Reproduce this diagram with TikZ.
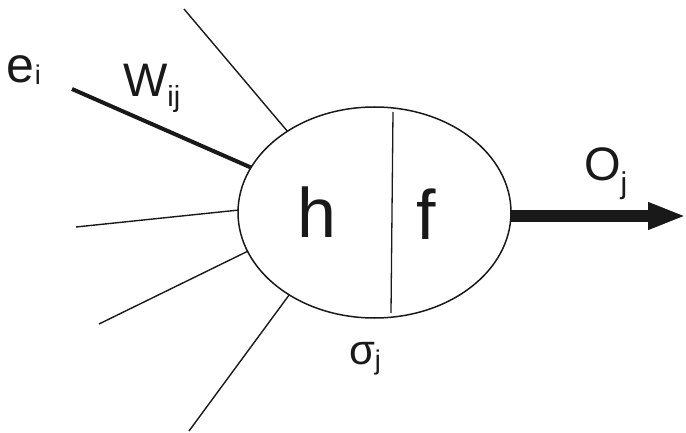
\documentclass[tikz,border=0pt]{standalone}
\usepackage{fontspec}
\setmainfont{Liberation Sans}
\usetikzlibrary{shapes.geometric,arrows.meta}
\tikzset{
  thin line/.style={line width=1.4pt, black!90},
  thick line/.style={line width=4pt, black!90},
  neuronshape/.style={ellipse, draw=black!90, line width=1.5pt, minimum width=273pt, minimum height=211pt, inner sep=0pt, outer sep=0pt},
  lbl/.style={anchor=base west, inner sep=0pt, outer sep=0pt, text=black!90},
  outarrow/.style={line width=12pt, black!90, -{Triangle[length=38pt,width=25pt]}}
}
\newcommand\fsz[1]{\fontsize{#1}{#1}\selectfont}
\begin{document}
\begin{tikzpicture}[x=1pt,y=-1pt]
\useasboundingbox (0,0) rectangle (686,433);
\node[neuronshape] (neuron) at (374.5,212.5) {};
% outer ends of inputs
\coordinate (in1) at (184,9);
\coordinate (in2) at (72,89);
\coordinate (in3) at (76,227);
\coordinate (in4) at (99,324);
\coordinate (in5) at (189,431);
\draw[thin line] (in1) -- (neuron.137);
\draw[thick line] (in2) -- (neuron.160);
\draw[thin line] (in3) -- (neuron.179.3);
\draw[thin line] (in4) -- (neuron.197.2);
\draw[thin line] (in5) -- (neuron.224.7);
% divider
\coordinate (divtop) at (393,112);
\coordinate (divbot) at (391,313);
\draw[thin line, line width=1.3pt] (divtop) -- (divbot);
% output
\coordinate (otip) at (686,216);
\draw[outarrow] ([yshift=-3.5pt]neuron.east) -- (otip);
% labels
\node[lbl] (hlab) at (297,237) {\fsz{70}h};
\node[lbl] (flab) at (416,240) {\fsz{70}f};
\node[lbl] (ei) at (6,83) {\fsz{50}e\kern1pt\raisebox{-2pt}{\fsz{27}i}};
\node[lbl] (wij) at (123,97) {\fsz{47}W\raisebox{-10pt}{\fsz{29}ij}};
\node[lbl] (oj) at (584,181) {\fsz{47}O\raisebox{-13pt}{\fsz{30}j}};
\node[lbl] (sj) at (349,364) {\fsz{42}σ\raisebox{-5pt}{\fsz{27}j}};
\end{tikzpicture}
\end{document}
